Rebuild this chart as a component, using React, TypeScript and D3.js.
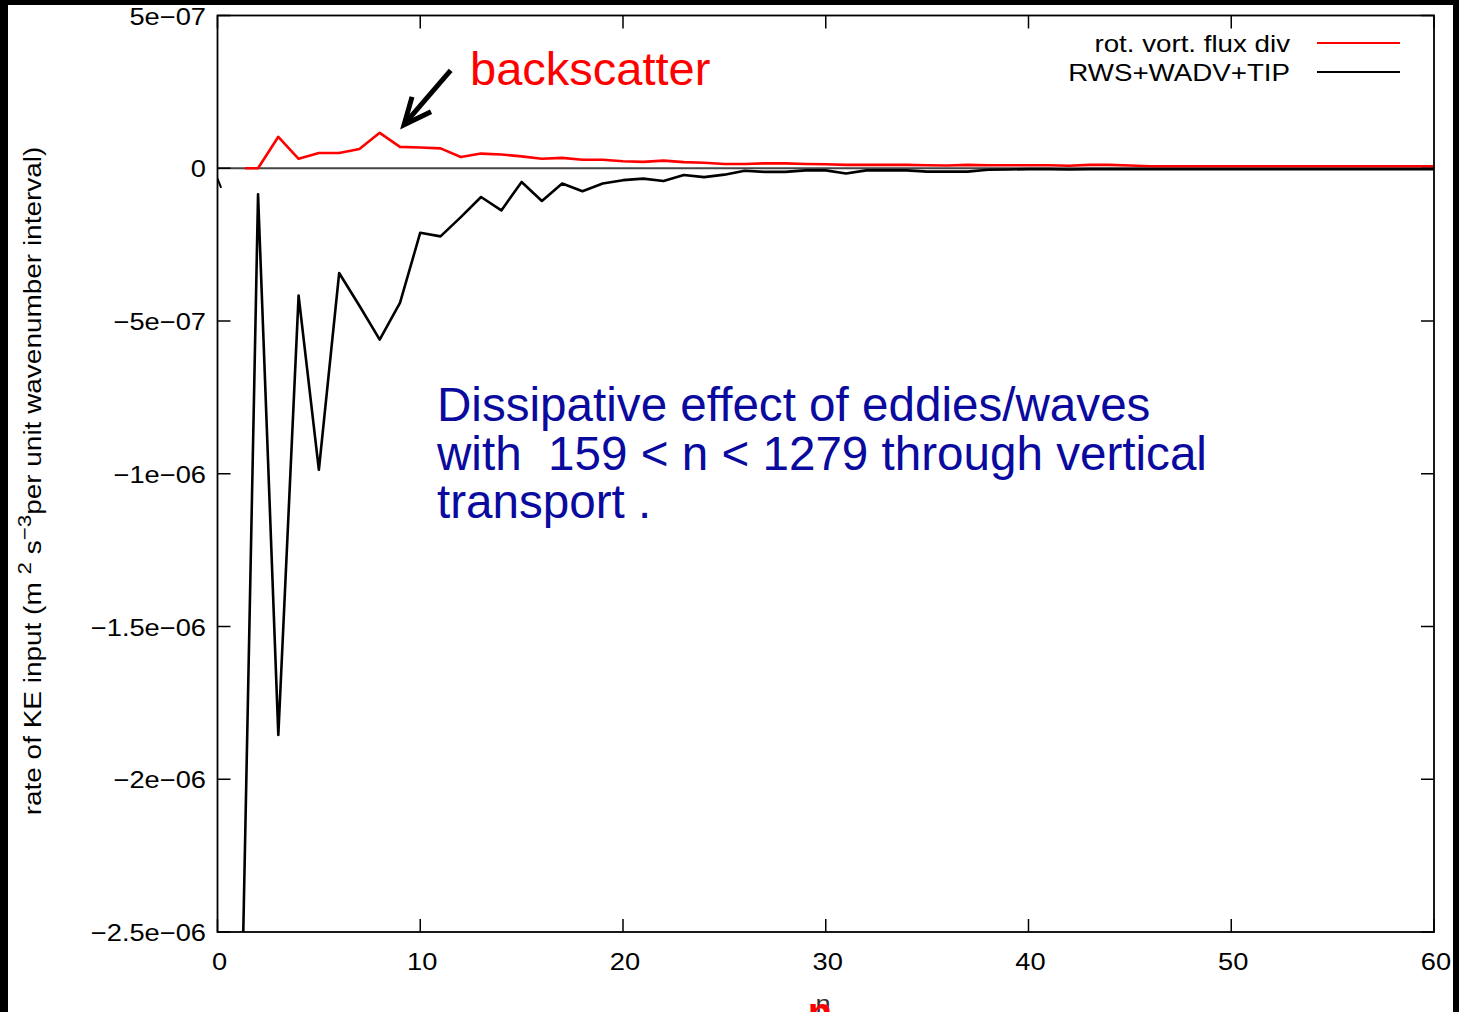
import React from "react";
import * as d3 from "d3";

// ---------- data ----------
const blackN = [1, 2, 3, 4, 5, 6, 7, 8, 9, 10, 11, 12, 13, 14, 15, 16, 17, 18, 19, 20, 21, 22, 23, 24, 25, 26, 27, 28, 29, 30, 31, 32, 33, 34, 35, 36, 37, 38, 39, 40, 41, 42, 43, 44, 45, 46, 47, 48, 49, 50, 51, 52, 53, 54, 55, 56, 57, 58, 59, 60];
const blackValues = [
  -3.4e-6, -8.5e-8, -1.855e-6, -4.17e-7, -9.87e-7, -3.43e-7, -4.5e-7, -5.61e-7, -4.41e-7, -2.11e-7,
  -2.23e-7, -1.6e-7, -9.4e-8, -1.38e-7, -4.5e-8, -1.07e-7, -5.0e-8, -7.5e-8, -5.0e-8, -3.9e-8,
  -3.4e-8, -4.2e-8, -2.2e-8, -2.9e-8, -2.1e-8, -8e-9, -1.2e-8, -1.2e-8, -7e-9, -7e-9,
  -1.7e-8, -7e-9, -7e-9, -7e-9, -1.1e-8, -1.1e-8, -1.1e-8, -5e-9, -4e-9, -3e-9,
  -3e-9, -4e-9, -3e-9, -3e-9, -3e-9, -3e-9, -3e-9, -3e-9, -3e-9, -3e-9,
  -3e-9, -3e-9, -3e-9, -3e-9, -3e-9, -3e-9, -3e-9, -3e-9, -3e-9, -3e-9,
];
const blackStubN = [0, 0.18];
const blackStubValues = [-3.4e-8, -6.4e-8];

const redN = [1.35, 2, 3, 4, 5, 6, 7, 8, 9, 10, 11, 12, 13, 14, 15, 16, 17, 18, 19, 20, 21, 22, 23, 24, 25, 26, 27, 28, 29, 30, 31, 32, 33, 34, 35, 36, 37, 38, 39, 40, 41, 42, 43, 44, 45, 46, 47, 48, 49, 50, 51, 52, 53, 54, 55, 56, 57, 58, 59, 60];
const redValues = [
  0, 0, 1.03e-7, 3.1e-8, 5.0e-8, 5.0e-8, 6.3e-8, 1.16e-7, 7.0e-8, 6.8e-8,
  6.5e-8, 3.7e-8, 4.8e-8, 4.5e-8, 3.9e-8, 3.1e-8, 3.4e-8, 2.8e-8, 2.8e-8, 2.3e-8,
  2.1e-8, 2.5e-8, 2.0e-8, 1.8e-8, 1.4e-8, 1.4e-8, 1.6e-8, 1.6e-8, 1.4e-8, 1.3e-8,
  1.1e-8, 1.1e-8, 1.1e-8, 1.1e-8, 1.0e-8, 9e-9, 1.1e-8, 1.0e-8, 1.0e-8, 1.0e-8,
  1.0e-8, 8e-9, 1.1e-8, 1.1e-8, 9e-9, 6.5e-9, 6.5e-9, 6.5e-9, 6.5e-9, 6.5e-9,
  6.5e-9, 6.5e-9, 6.5e-9, 6.5e-9, 6.5e-9, 6.5e-9, 6.5e-9, 6.5e-9, 6.5e-9, 6.5e-9,
];

const xTicks = [0, 10, 20, 30, 40, 50, 60];
const xTickLabels = ["0", "10", "20", "30", "40", "50", "60"];
const yTicks = [5e-7, 0, -5e-7, -1e-6, -1.5e-6, -2e-6, -2.5e-6];
const yTickLabels = ["5e\u221207", "0", "\u22125e\u221207", "\u22121e\u221206", "\u22121.5e\u221206", "\u22122e\u221206", "\u22122.5e\u221206"];

const seriesNames = ["rot. vort. flux div", "RWS+WADV+TIP"];
const seriesColors = ["#ff0000", "#000000"];

const noteLines = ["Dissipative effect of eddies/waves", "with  159 < n < 1279 through vertical", "transport ."];

// ---------- layout ----------
const W = 1459, H = 1012;
const L = 217.5, R = 1434, T = 15.5, B = 932;
const FONT = "'Liberation Sans', Arial, Helvetica, sans-serif";
const FS = 23.5;
const SX = 1.16;

function Txt({ x, y, anchor = "start", size = FS, fill = "#000", rot = 0, sx = SX, weight = "normal", children }: any) {
  return (
    <text
      transform={`translate(${x},${y})${rot ? ` rotate(${rot})` : ""} scale(${sx},1)`}
      textAnchor={anchor}
      fontSize={size}
      fontFamily={FONT}
      fill={fill}
      fontWeight={weight}
      style={{ whiteSpace: "pre" }}
    >
      {children}
    </text>
  );
}

export default function App() {
  const x = d3.scaleLinear().domain([0, 60]).range([L, R]);
  const y = d3.scaleLinear().domain([-2.5e-6, 5e-7]).range([B, T]);
  const line = d3.line<[number, number]>().x((d) => x(d[0])).y((d) => y(d[1]));

  const black = blackN.map((n, i) => [n, blackValues[i]] as [number, number]);
  const stub = blackStubN.map((n, i) => [n, blackStubValues[i]] as [number, number]);
  const red = redN.map((n, i) => [n, redValues[i]] as [number, number]);

  const tick = 13;
  // annotation arrow in data coordinates
  const arrTip: [number, number] = [9.2, 1.42e-7];
  const arrTail: [number, number] = [11.5, 3.2e-7];
  const tipX = x(arrTip[0]), tipY = y(arrTip[1]);

  return (
    <svg width={W} height={H} style={{ position: "absolute", left: 0, top: 0, display: "block" }}>
      <rect x={0} y={0} width={W} height={H} fill="#000" />
      <rect x={8} y={5} width={1445} height={H} fill="#fff" />
      <defs>
        <clipPath id="plot">
          <rect x={L} y={T} width={R - L} height={B - T} />
        </clipPath>
      </defs>

      {/* zero axis */}
      <line x1={L} x2={R} y1={y(0)} y2={y(0)} stroke="#444" strokeWidth={2} />

      {/* ticks */}
      {xTicks.map((t, i) => (
        <g key={"xt" + i}>
          <line x1={x(t)} x2={x(t)} y1={B} y2={B - tick} stroke="#000" strokeWidth={1.5} />
          <line x1={x(t)} x2={x(t)} y1={T} y2={T + tick} stroke="#000" strokeWidth={1.5} />
          <Txt x={x(t) + 2} y={B + 38} anchor="middle">{xTickLabels[i]}</Txt>
        </g>
      ))}
      {yTicks.map((t, i) => (
        <g key={"yt" + i}>
          <line x1={L} x2={L + tick} y1={y(t)} y2={y(t)} stroke="#000" strokeWidth={1.5} />
          <line x1={R} x2={R - tick} y1={y(t)} y2={y(t)} stroke="#000" strokeWidth={1.5} />
          <Txt x={206} y={y(t) + 9} anchor="end">{yTickLabels[i]}</Txt>
        </g>
      ))}

      {/* series */}
      <g clipPath="url(#plot)">
        <path d={line(red) || ""} fill="none" stroke={seriesColors[0]} strokeWidth={2.6} strokeLinejoin="round" />
        <path d={line(black) || ""} fill="none" stroke={seriesColors[1]} strokeWidth={2.6} strokeLinejoin="round" />
        <path d={line(stub) || ""} fill="none" stroke={seriesColors[1]} strokeWidth={2} />
      </g>

      {/* frame */}
      <rect x={L} y={T} width={R - L} height={B - T} fill="none" stroke="#000" strokeWidth={1.8} />

      {/* legend */}
      {seriesNames.map((s, i) => (
        <g key={"lg" + i}>
          <Txt x={1290} y={52 + i * 28.5} anchor="end" sx={1.18}>{s}</Txt>
          <line x1={1317} x2={1400} y1={43 + i * 29} y2={43 + i * 29} stroke={seriesColors[i]} strokeWidth={2} />
        </g>
      ))}

      {/* axis labels */}
      <text transform={`translate(41,481) rotate(-90) scale(1.19,1)`} textAnchor="middle" fontSize={FS} fontFamily={FONT} fill="#000" style={{ whiteSpace: "pre" }}>
        rate of KE input (m <tspan dy={-10} fontSize={FS * 0.8}>2</tspan><tspan dy={10}> s</tspan><tspan dy={-10} fontSize={FS * 0.8}>{"\u22123"}</tspan><tspan dy={10}>per unit wavenumber interval)</tspan>
      </text>
      <Txt x={823} y={1012} anchor="middle" fill="#333">n</Txt>
      <Txt x={820} y={1026} anchor="middle" fill="#ff0000" size={40} sx={1} weight="bold">n</Txt>

      {/* annotations */}
      <text x={470} y={85} fontSize={47} fontFamily={FONT} fill="#ff0000">backscatter</text>
      <g stroke="#000" strokeWidth={5} fill="none" strokeLinecap="butt">
        <line x1={x(arrTail[0])} y1={y(arrTail[1])} x2={tipX + 4} y2={tipY - 5} />
        <polyline points={`${tipX + 8},${tipY - 28} ${tipX},${tipY} ${tipX + 27},${tipY - 13}`} strokeLinejoin="miter" />
      </g>
      {noteLines.map((s, i) => (
        <text key={"nl" + i} x={437} y={421 + i * 48.5} fontSize={47.6} fontFamily={FONT} fill="#0a0a9e" style={{ whiteSpace: "pre" }}>
          {s}
        </text>
      ))}
    </svg>
  );
}
